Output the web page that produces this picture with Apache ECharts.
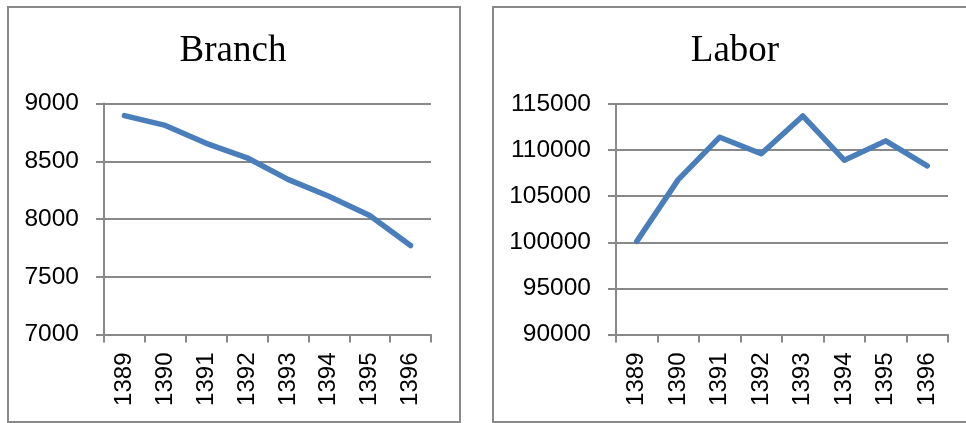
<!DOCTYPE html>
<html>
<head>
<meta charset="utf-8">
<script src="https://cdn.jsdelivr.net/npm/echarts@6/dist/echarts.min.js"></script>
<style>
  html, body { margin: 0; padding: 0; background: #fff; }
  #chart { width: 966px; height: 423px; }
</style>
</head>
<body>
<div id="chart"></div>
<script>
const years = ['1389', '1390', '1391', '1392', '1393', '1394', '1395', '1396'];
const branch = [8895, 8810, 8655, 8530, 8343, 8197, 8030, 7770];
const labor = [100100, 106800, 111400, 109600, 113700, 108900, 111000, 108300];

const gray = '#898989';
const blue = '#4A7EBB';
const sans = '"Liberation Sans", Arial, sans-serif';
const serif = '"Liberation Serif", "Times New Roman", serif';

const chart = echarts.init(document.getElementById('chart'), null, { renderer: 'canvas' });

function xAxis(gridIndex) {
  return {
    type: 'category',
    gridIndex,
    data: years,
    boundaryGap: true,
    axisLine: { lineStyle: { color: gray, width: 2 } },
    axisTick: { show: true, length: 8, interval: 0, lineStyle: { color: gray, width: 2 } },
    axisLabel: { rotate: 90, interval: 0, margin: 18, color: '#000', fontSize: 24, fontFamily: sans },
    splitLine: { show: false }
  };
}

function yAxis(gridIndex, min, max, interval) {
  return {
    type: 'value',
    gridIndex,
    min, max, interval,
    axisLine: { show: true, lineStyle: { color: gray, width: 2 } },
    axisTick: { show: true, length: 8, lineStyle: { color: gray, width: 2 } },
    axisLabel: { margin: 25, color: '#000', fontSize: 24.5, fontFamily: sans, formatter: (v) => String(v) },
    splitLine: { show: true, lineStyle: { color: gray, width: 2 } }
  };
}

chart.setOption({
  animation: false,
  title: [
    { text: 'Branch', left: 228, top: 28, textAlign: 'center',
      textStyle: { fontFamily: serif, fontSize: 37, fontWeight: 'normal', color: '#000' } },
    { text: 'Labor', left: 730, top: 28, textAlign: 'center',
      textStyle: { fontFamily: serif, fontSize: 37, fontWeight: 'normal', color: '#000' } }
  ],
  graphic: [
    { type: 'rect', shape: { x: 8, y: 7, width: 452, height: 415 },
      style: { fill: 'none', stroke: gray, lineWidth: 2 } },
    { type: 'rect', shape: { x: 493, y: 7, width: 480, height: 415 },
      style: { fill: 'none', stroke: gray, lineWidth: 2 } }
  ],
  grid: [
    { left: 104, top: 103.5, width: 327, height: 231 },
    { left: 616, top: 104, width: 332, height: 230.5 }
  ],
  xAxis: [xAxis(0), xAxis(1)],
  yAxis: [yAxis(0, 7000, 9000, 500), yAxis(1, 90000, 115000, 5000)],
  series: [
    { type: 'line', xAxisIndex: 0, yAxisIndex: 0, data: branch, showSymbol: false,
      lineStyle: { color: blue, width: 5.5, cap: 'round', join: 'round' } },
    { type: 'line', xAxisIndex: 1, yAxisIndex: 1, data: labor, showSymbol: false,
      lineStyle: { color: blue, width: 5.5, cap: 'round', join: 'round' } }
  ]
});
</script>
</body>
</html>
